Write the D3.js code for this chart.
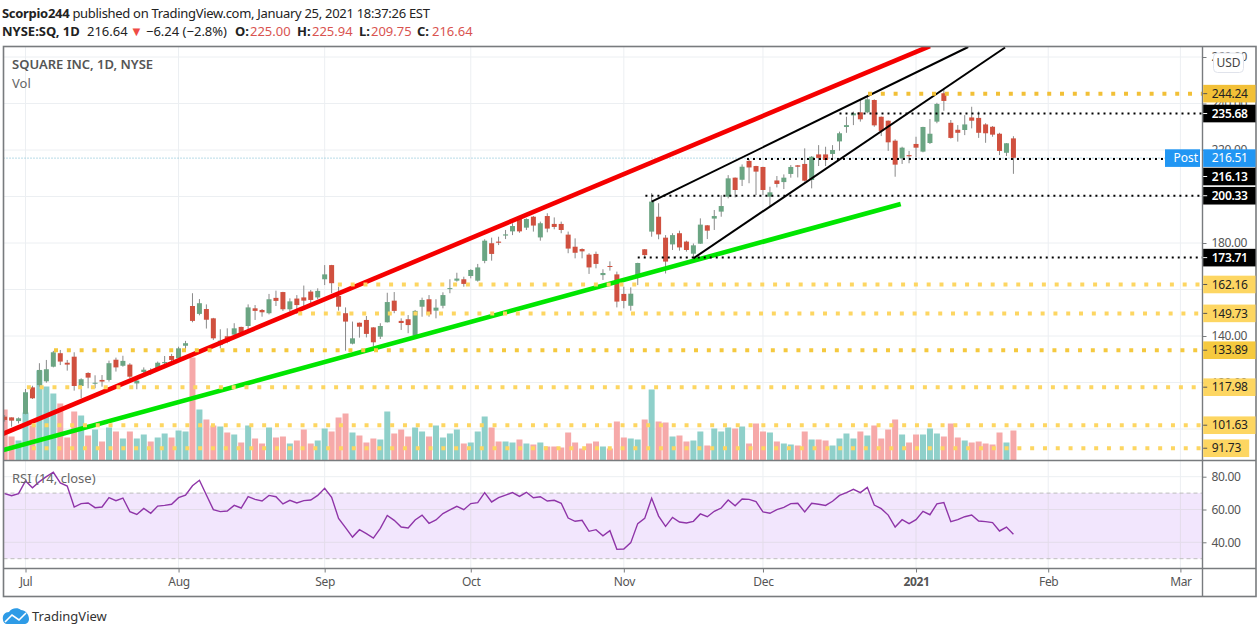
<!DOCTYPE html>
<html>
<head>
<meta charset="utf-8">
<title>SQ</title>
<script src="https://cdnjs.cloudflare.com/ajax/libs/d3/7.8.5/d3.min.js"></script>
<style>
    html, body { margin: 0; padding: 0; background: #fff; }
    svg { display: block; }
    text { font-family: "Noto Sans", sans-serif; }
</style>
</head>
<body>
<div id="chart"></div>
<script>
// daily bars, 26 Jun 2020 to 25 Jan 2021
var opens = [105.3,105,103.4,106.5,117.9,118.9,120.5,126.8,132.6,128.5,
    131.1,118.5,124.1,119.5,121.1,121.1,129.8,127.2,127.7,119.6,
    124.5,125.1,126.2,128.3,131.4,130.4,135.8,152.9,149.5,151.6,
    147.6,136.1,139.9,140.6,143.9,144.3,151.9,151.2,149.8,156.4,
    158.9,151.5,156.1,156.6,159.1,156.6,164.4,170.5,157.2,149.8,
    136.7,145.7,146.9,143.7,139.7,145.9,155.2,146.5,147.2,140.1,
    152.6,155.8,150.9,153,160.2,163.8,164.4,165.8,163.8,172.3,
    179.9,180.6,183.2,185,190.6,186.6,191.3,182.4,191.6,188.2,
    188.2,183.6,178.4,177.4,175,175.3,166.2,170.1,166.5,158.1,
    153,166.1,177.3,184.9,191.3,182.3,179.4,184.2,180.6,175.4,
    179.7,187.6,190.5,193.5,199.9,208.1,207.2,215.3,213.1,212.7,
    199.9,206.9,206.2,209.7,213.4,214,207.1,218.1,218.1,218.3,
    223.7,229.9,234.9,236.2,236.2,241.5,234.3,232.6,224,216.4,
    217.8,222.6,219.3,223,232.2,244.4,231.7,228.7,228.6,234,
    233.8,231,230,227,218.8,225]
var highs = [106,105,105,117.2,118.6,128.3,129.7,133.6,134,129.7,
    133,121.8,124.4,123.1,123.2,129.4,130.7,131.5,128.3,122.5,
    126.5,126.1,129,131.4,132.3,135.4,137.9,158.4,155.9,153.6,
    147.8,142.9,143.3,145.5,144,153.6,153.3,151.6,158.1,159.5,
    159,156.2,157.6,161.7,159.8,160.5,170.5,170.6,161.2,152.3,
    146.2,145.8,148.6,143.8,145.5,158.6,158.9,147.6,149,151.2,
    156.5,157.6,155.8,158.8,164.4,167.2,165.5,168.7,171,181.6,
    182.3,182.7,185.6,188.5,191.6,190.6,191.6,189.2,192.8,191,
    189.2,184.9,182,177.7,175.6,176.3,168.7,172.1,167.7,161.2,
    160.9,171.5,177.4,201.4,197.1,183.4,184.2,185.3,181,179.8,
    190.6,187.7,194.2,200.6,209.2,208.2,213.8,216.1,213.2,212.8,
    204.2,208.8,209.5,213.5,213.5,220.7,217.4,222.1,221.4,222.1,
    227.9,234.3,236.5,241.5,243.2,241.8,234.4,232.7,224.6,221.4,
    219.6,225.7,230,233.3,240.3,246.5,232.9,230.7,235,238.6,
    236.5,231.5,230.3,227.4,223,225.94]
var lows = [103.2,101,102.4,106.3,112.9,118.2,119.9,126.5,127.5,125.1,
    116.5,113.2,117.5,117.5,118.2,120.4,124.7,126.8,121.8,117.1,
    123.2,123.2,125.4,126.8,129,129.7,134,145.9,148.9,143.2,
    138.3,134.7,136.9,140,140.9,142.6,146.9,148.3,149.3,152.9,
    150.8,150.5,149.5,151.2,153.3,155.8,161.9,158.4,150.9,133.7,
    136.4,139.3,139.4,135.4,138.7,145.8,149.8,142.6,141.2,140,
    148.3,148.3,147.6,151.9,158.4,163.4,161.2,164.8,163.4,171.3,
    172.4,179.1,181.7,183.4,184.4,185.6,184.9,181,184.6,185.9,
    184.2,175.6,173.4,173.4,166.7,169.1,164.1,168.1,152.3,151.9,
    150.9,161.9,174.1,182.7,181.6,166.9,177,176.7,176.3,173.4,
    179.6,181.7,185.6,191.3,199.2,199.6,204.5,205.7,200.6,200.6,
    195.6,203.9,203.2,208.1,208.2,206.4,203.5,213.1,213.1,216,
    219.7,227.4,230.7,232.2,235.8,230,226,219.6,208.5,214,
    214.3,216.8,219,222.6,231.5,236.9,224.9,223.6,226.4,229.3,
    225.2,223.1,225.7,217.8,217.4,209.75]
var closes = [103.9,103.6,104.6,115.8,113.2,125.4,125.7,133,129,127.7,
    118.5,121.4,122.1,119.9,120.4,128.3,126.5,129.3,122.5,120.8,
    125.5,123.9,128.5,128.8,129.7,134.7,136.9,146.5,154.1,147,
    139,138,137.6,143.3,141.4,152.3,150.8,150.2,155.8,155.1,
    151.5,154.9,153.3,155.2,155.5,159.4,166.5,162.7,152.6,146.2,
    139,144,140.9,137.3,144.3,154.6,150.8,145.6,144.7,150.8,
    155.5,149.3,152.2,157.6,160.6,164.7,162.4,168.4,169.5,181,
    175.3,180.1,183.7,187.3,185,190.3,187.5,188.5,186.2,186.9,
    185.6,177.6,175.8,176.4,169.5,171,167.1,169.7,154.8,155.1,
    158.2,171.4,174.8,197.8,183.7,172,183.4,178.1,177,179,
    187.9,185.3,191.6,195.9,207.8,202.8,212.8,212.5,210.7,202.8,
    201.8,205.4,208.1,212.7,212.8,206.8,217.1,216.6,215.7,220,
    227.2,230.7,235.8,233.2,241.8,230.6,228.2,223.3,213.7,221,
    217.3,221,229.9,227,239.8,241.1,225.2,227.4,231,232.6,
    227.4,227.2,226.6,219.6,222.9,216.64]
// millions of shares
var volumes = [20.4,9.6,8,19.2,14,36,29.6,26.8,22.8,9.2,
    19.6,18,10,12.4,7.6,13.2,11.6,8.8,11.6,8.8,
    10.4,7.6,9.2,10.8,9.2,12,11.6,41.2,20.4,16.4,
    14,13.6,11.2,10.4,7.2,14,8.8,6.8,13.2,9.2,
    9.6,6.8,8,12.4,6.8,8,12.8,11.6,17.2,18.8,
    11.2,10,7.2,8.8,8.4,19.6,10.8,12.4,9.6,13.2,
    11.6,9.6,14,9.2,10.8,12.4,6.8,7.2,11.6,17.6,
    13.2,7.6,7.6,7.2,8.4,6.8,6.4,7.2,5.6,5.6,
    5.2,11.2,7.2,4.8,6.8,7.6,5.6,4.8,15.6,9.2,
    8.8,8.4,16.4,28.4,15.6,15.2,9.6,10,7.6,8,
    11.6,6,12.8,11.6,13.2,12.8,13.6,6.8,14.8,11.6,
    11.2,7.6,6.8,6.4,6,11.6,8.4,8.4,8,6,
    8.8,10.8,8.8,11.6,10,14,8.8,12.4,16.4,10.4,
    7.2,10.4,10.4,12.8,10.8,9.6,14.8,9.2,8,7.2,
    7.6,6.8,6.4,11.2,7.2,12]
var rsiValues = [69.7,68.4,69.7,77.4,73.3,77,80,82.7,76.2,74.3,
    61.5,63.6,64,61.1,61.5,67.2,65.4,67,58.7,57,
    60.7,57.7,62.1,62.5,63.2,67.2,68.8,74.5,77.8,68.8,
    59.9,58.7,59.1,62.5,60.9,67.8,66.2,65.2,68.6,67.8,
    63.4,65.6,64,65.4,65.8,68.6,72.9,67.4,54.6,48.9,
    43.2,47.7,45.3,42.6,48.5,56.4,53.4,49.3,48.7,53.6,
    56.6,51.6,53.6,57.5,59.7,61.9,59.9,63.6,64.2,70.3,
    64.6,67.2,68.8,70.3,68,70.5,67.2,67.8,65.2,65.6,
    63.8,54.8,52.8,53.4,46.7,47.7,44,47.1,35.7,35.9,
    39.8,51.4,54.6,66.8,56,49.7,55.2,52.4,51.8,52.8,
    57.3,55.6,58.9,60.9,65.8,62.3,66.4,66.2,64.8,58.5,
    57.7,59.9,61.3,63.6,63.8,58.5,63.8,63.2,62.5,65,
    68.6,70.3,72.3,70.3,73.5,62.7,60.5,56.6,49.3,53.8,
    51.4,53.8,58.9,56.8,63.4,64.2,52.6,53.8,55.6,56.6,
    53,52.6,52,46.9,49.3,44.9]

// time axis, values are bar numbers
var monthLabels = ["Jul", "Aug", "Sep", "Oct", "Nov", "Dec", "2021", "Feb", "Mar"]
var monthBars = [3, 25, 46, 67, 89, 109, 131, 150, 169]

var gridPrices = [100, 120, 140, 160, 180, 200, 220, 240, 260]
var priceTicks = [120, 140, 180, 220, 240, 260] // the others sit fully behind a price tag
var rsiTicks = [40, 60, 80]
var rsiBand = [30, 70]

// drawn levels: price and the bar they start from
var goldLevels = [244.24, 162.16, 149.73, 133.89, 117.98, 101.63, 91.73]
var goldStartBars = [124.1, 47.9, 42.2, 7.1, 3.2, 3.9, 3.9]
var goldColors = ["#f2c037", "#fdd662", "#fdd662", "#f5c93f", "#fdd662", "#fdd662", "#fdd662"]
var blackLevels = [235.68, 216.13, 200.33, 173.71]
var blackStartBars = [120, 106.7, 92.1, 91]
var postPrice = 216.51

// trend lines: [bar, price] at each end
var redTrend = [[-0.33, 97.8], [133, 264.7]]
var greenTrend = [[-0.33, 90.8], [128.8, 196.8]]
var upperWedge = [[93, 197.8], [138.5, 264.3]]
var lowerWedge = [[99, 173.4], [143.8, 264.1]]

// header second line: text, bold, colour, left edge
var quoteParts = [
    ["NYSE:SQ, 1D", true, "#222", 2], ["216.64", false, "#222", 87], ["▼", false, "#ef4b45", 130],
    ["−6.24 (−2.8%)", false, "#222", 146], ["O:", true, "#222", 235], ["225.00", false, "#d9534f", 250],
    ["H:", true, "#222", 297], ["225.94", false, "#d9534f", 312], ["L:", true, "#222", 359],
    ["209.75", false, "#d9534f", 371], ["C:", true, "#222", 417], ["216.64", false, "#d9534f", 432]
]

document.addEventListener("DOMContentLoaded", () => {
    drawChart()
})

let drawChart = () => {
    var width = 1258
    var height = 627
    var left = 3.5, top = 46.5, paneRight = 1202.5, right = 1256
    var paneBottom = 460.5, rsiBottom = 568.5, bottom = 596.5

    var svg = d3.select("#chart")
        .append("svg")
        .attr("width", width)
        .attr("height", height)

    var x = d3.scaleLinear().domain([0, 169]).range([4.63, 1180.4])
    var y = d3.scaleLinear().domain([180, 140]).range([243, 336])
    var yVol = d3.scaleLinear().domain([0, 40]).range([paneBottom, paneBottom - 100])
    var yRsi = d3.scaleLinear().domain([60, 40]).range([509.5, 542.3])

    var bars = d3.range(opens.length)

    var defs = svg.append("defs")
    defs.append("clipPath").attr("id", "mainClip").append("rect")
        .attr("x", left).attr("y", top).attr("width", paneRight - left).attr("height", paneBottom - top)
    defs.append("clipPath").attr("id", "rsiClip").append("rect")
        .attr("x", left).attr("y", paneBottom).attr("width", paneRight - left).attr("height", rsiBottom - paneBottom)

    // grid
    var grid = svg.append("g").attr("stroke", "#eceff2").attr("stroke-width", 1)
    grid.selectAll(".vgrid")
        .data(monthBars)
        .enter()
        .append("line")
        .attr("x1", d => x(d)).attr("x2", d => x(d))
        .attr("y1", top).attr("y2", rsiBottom)
    grid.selectAll(".hgrid")
        .data(gridPrices)
        .enter()
        .append("line")
        .attr("x1", left).attr("x2", paneRight)
        .attr("y1", d => y(d)).attr("y2", d => y(d))
    grid.selectAll(".rgrid")
        .data([80])
        .enter()
        .append("line")
        .attr("x1", left).attr("x2", paneRight)
        .attr("y1", d => yRsi(d)).attr("y2", d => yRsi(d))

    // rsi band goes under its grid lines
    svg.append("rect")
        .attr("x", left)
        .attr("width", paneRight - left)
        .attr("y", yRsi(rsiBand[1]))
        .attr("height", yRsi(rsiBand[0]) - yRsi(rsiBand[1]))
        .attr("fill", "#f2e6fd")
    svg.append("g").selectAll("line")
        .data([40, 60])
        .enter()
        .append("line")
        .attr("x1", left).attr("x2", paneRight)
        .attr("y1", d => yRsi(d)).attr("y2", d => yRsi(d))
        .attr("stroke", "#e3dcea")
    svg.append("g").selectAll("line")
        .data(monthBars)
        .enter()
        .append("line")
        .attr("x1", d => x(d)).attr("x2", d => x(d))
        .attr("y1", yRsi(rsiBand[1])).attr("y2", yRsi(rsiBand[0]))
        .attr("stroke", "#e3dcea")
    svg.append("g").selectAll("line")
        .data(rsiBand)
        .enter()
        .append("line")
        .attr("x1", left).attr("x2", paneRight)
        .attr("y1", d => yRsi(d)).attr("y2", d => yRsi(d))
        .attr("stroke", "#bdbdbd")
        .attr("stroke-dasharray", "4 3")

    var main = svg.append("g").attr("clip-path", "url(#mainClip)")

    // volume
    main.append("g").selectAll("rect")
        .data(bars)
        .enter()
        .append("rect")
        .attr("x", d => x(d) - 3)
        .attr("width", 6)
        .attr("y", d => yVol(volumes[d]))
        .attr("height", d => yVol(0) - yVol(volumes[d]))
        .attr("fill", d => closes[d] >= opens[d] ? "#8fd0ca" : "#f6a9a9")

    // post market line
    main.append("line")
        .attr("x1", left).attr("x2", 1165)
        .attr("y1", y(postPrice)).attr("y2", y(postPrice))
        .attr("stroke", "#6fb6cf")
        .attr("stroke-dasharray", "1 2")

    // candles
    var candle = main.append("g").selectAll("g")
        .data(bars)
        .enter()
        .append("g")
    candle.append("line")
        .attr("x1", d => x(d)).attr("x2", d => x(d))
        .attr("y1", d => y(highs[d])).attr("y2", d => y(lows[d]))
        .attr("stroke", "#8a8a8a")
        .attr("stroke-width", 1)
    candle.append("rect")
        .attr("x", d => x(d) - 2.5)
        .attr("width", 5)
        .attr("y", d => y(Math.max(opens[d], closes[d])))
        .attr("height", d => Math.max(1, Math.abs(y(opens[d]) - y(closes[d]))))
        .attr("fill", d => closes[d] >= opens[d] ? "#6ba583" : "#d0503f")

    // trend lines
    var trendLine = d3.line().x(d => x(d[0])).y(d => y(d[1]))
    var trends = [
        { points: redTrend, color: "#f50000", w: 4.6 },
        { points: greenTrend, color: "#00e600", w: 4.6 },
        { points: upperWedge, color: "#000", w: 2 },
        { points: lowerWedge, color: "#000", w: 2 }
    ]
    main.append("g").selectAll("path")
        .data(trends)
        .enter()
        .append("path")
        .attr("d", d => trendLine(d.points))
        .attr("fill", "none")
        .attr("stroke", d => d.color)
        .attr("stroke-width", d => d.w)

    // dotted levels
    main.append("g").selectAll("line")
        .data(blackLevels)
        .enter()
        .append("line")
        .attr("x1", (d, i) => x(blackStartBars[i])).attr("x2", paneRight)
        .attr("y1", d => y(d)).attr("y2", d => y(d))
        .attr("stroke", "#000")
        .attr("stroke-width", 2)
        .attr("stroke-dasharray", "2 4")
    main.append("g").selectAll("line")
        .data(goldLevels)
        .enter()
        .append("line")
        .attr("x1", (d, i) => x(goldStartBars[i])).attr("x2", paneRight)
        .attr("y1", d => y(d)).attr("y2", d => y(d))
        .attr("stroke", (d, i) => goldColors[i])
        .attr("stroke-width", 4)
        .attr("stroke-dasharray", "4 8.8")

    // rsi line
    svg.append("path")
        .attr("clip-path", "url(#rsiClip)")
        .attr("d", d3.line().x((d, i) => x(i)).y(d => yRsi(d))(rsiValues))
        .attr("fill", "none")
        .attr("stroke", "#8f35a8")
        .attr("stroke-width", 1.4)

    // frame
    var frame = svg.append("g").attr("stroke", "#787b7e").attr("fill", "none")
    frame.append("rect")
        .attr("x", left).attr("y", top)
        .attr("width", right - left).attr("height", bottom - top)
        .attr("stroke-width", 1.6)
    frame.append("line").attr("x1", left).attr("x2", right).attr("y1", paneBottom).attr("y2", paneBottom).attr("stroke-width", 1.4)
    frame.append("line").attr("x1", left).attr("x2", right).attr("y1", rsiBottom).attr("y2", rsiBottom).attr("stroke-width", 1.4)
    frame.append("line").attr("x1", paneRight).attr("x2", paneRight).attr("y1", top).attr("y2", bottom).attr("stroke-width", 1.4)

    // axes
    var styleAxis = (g) => {
        g.select(".domain").remove()
        g.selectAll(".tick line").attr("stroke", "#787b7e")
        g.selectAll(".tick text")
            .attr("fill", "#555")
            .style("font-size", "12px")
            .style("letter-spacing", "-0.35px")
            .style("font-family", '"Noto Sans", sans-serif')
    }
    svg.append("g")
        .attr("transform", "translate(" + paneRight + ",0)")
        .call(d3.axisRight(y).tickValues(priceTicks).tickFormat(d3.format(".2f")).tickSize(4).tickPadding(5))
        .call(styleAxis)
    svg.append("g")
        .attr("transform", "translate(" + paneRight + ",0)")
        .call(d3.axisRight(yRsi).tickValues(rsiTicks).tickFormat(d3.format(".2f")).tickSize(4).tickPadding(5))
        .call(styleAxis)
    var timeAxis = svg.append("g")
        .attr("transform", "translate(0," + rsiBottom + ")")
        .call(d3.axisBottom(x).tickValues(monthBars).tickFormat((d, i) => monthLabels[i]).tickSize(4).tickPadding(5))
        .call(styleAxis)
    timeAxis.selectAll(".tick text")
        .style("font-weight", (d, i) => monthLabels[i] == "2021" ? "700" : "400")

    // price tags, pushed down when they would overlap
    var tags = []
    goldLevels.forEach((d, i) => tags.push({ value: d, bg: goldColors[i], fg: "#222" }))
    blackLevels.forEach(d => tags.push({ value: d, bg: "#000", fg: "#fff", bold: true }))
    tags.push({ value: postPrice, bg: "#2196f3", fg: "#fff", post: true })
    tags.sort((a, b) => d3.descending(a.value, b.value))
    var lastY = -100
    tags.forEach(t => {
        t.cy = Math.max(y(t.value), lastY + 18.4)
        lastY = t.cy
    })
    var tag = svg.append("g").selectAll("g")
        .data(tags)
        .enter()
        .append("g")
        .attr("transform", d => "translate(" + (paneRight + 0.7) + "," + d.cy + ")")
    tag.append("rect")
        .attr("y", -8.8)
        .attr("width", d => d.value < 100 ? 46 : 52.3)
        .attr("height", 17.6)
        .attr("fill", d => d.bg)
    tag.append("line")
        .attr("x1", 0).attr("x2", 4)
        .attr("stroke", d => d.bg == "#000" ? "#fff" : "#555")
        .attr("opacity", d => d.post ? 0 : 1)
    tag.append("text")
        .attr("x", 8.6)
        .attr("dy", "0.35em")
        .attr("fill", d => d.fg)
        .style("font-size", "12px")
        .style("letter-spacing", "-0.3px")
        .style("font-weight", d => d.bold ? 600 : 400)
        .text(d => d3.format(".2f")(d.value))

    // post label
    var post = svg.append("g").attr("transform", "translate(1165," + y(postPrice) + ")")
    post.append("rect").attr("y", -8.8).attr("width", 35).attr("height", 17.6).attr("fill", "#2196f3")
    post.append("text")
        .attr("x", 8.5).attr("dy", "0.35em")
        .attr("fill", "#fff")
        .style("font-size", "12px")
        .text("Post")

    // usd button
    svg.append("rect")
        .attr("x", 1213.5).attr("y", 53)
        .attr("width", 30).attr("height", 19.5)
        .attr("rx", 4)
        .attr("fill", "#fff")
        .attr("stroke", "#e0e3eb")
    svg.append("text")
        .attr("x", 1228.5).attr("y", 67)
        .attr("text-anchor", "middle")
        .attr("fill", "#444")
        .style("font-size", "12px")
        .text("USD")

    // header
    var line1 = svg.append("text").attr("x", 2).attr("y", 18).attr("fill", "#222")
        .style("font-size", "13px").style("letter-spacing", "-0.3px")
    line1.append("tspan").style("font-weight", 700).text("Scorpio244")
    line1.append("tspan").text(" published on TradingView.com, January 25, 2021 18:37:26 EST")

    var line2 = svg.append("text").attr("y", 36).style("font-size", "13px")
    quoteParts.forEach(p => {
        line2.append("tspan")
            .attr("x", p[3])
            .style("font-weight", p[1] ? 700 : 400)
            .attr("fill", p[2])
            .text(p[0])
    })

    // pane titles
    svg.append("text").attr("x", 12).attr("y", 69).attr("fill", "#555")
        .style("font-size", "13px").style("font-weight", 600).text("SQUARE INC, 1D, NYSE")
    svg.append("text").attr("x", 12).attr("y", 88).attr("fill", "#666")
        .style("font-size", "13px").text("Vol")
    svg.append("text").attr("x", 12).attr("y", 483).attr("fill", "#666")
        .style("font-size", "13px").text("RSI (14, close)")

    // logo
    var logo = svg.append("g")
    logo.append("path")
        .attr("d", "M3,620 C2,615 5,612 9,612 C11,608 18,607 21,610 C25,610 29,614 29,619 C29,622 27,624 24,624 L7,624 C5,624 3,622 3,620 Z")
        .attr("fill", "#2e9be6")
    logo.append("path")
        .attr("d", "M5,622 L12,615 L19,620 L26,613")
        .attr("fill", "none")
        .attr("stroke", "#fff")
        .attr("stroke-width", 1.6)
    svg.append("text").attr("x", 32).attr("y", 621).attr("fill", "#333")
        .style("font-size", "13px").text("TradingView")
}
</script>
</body>
</html>
